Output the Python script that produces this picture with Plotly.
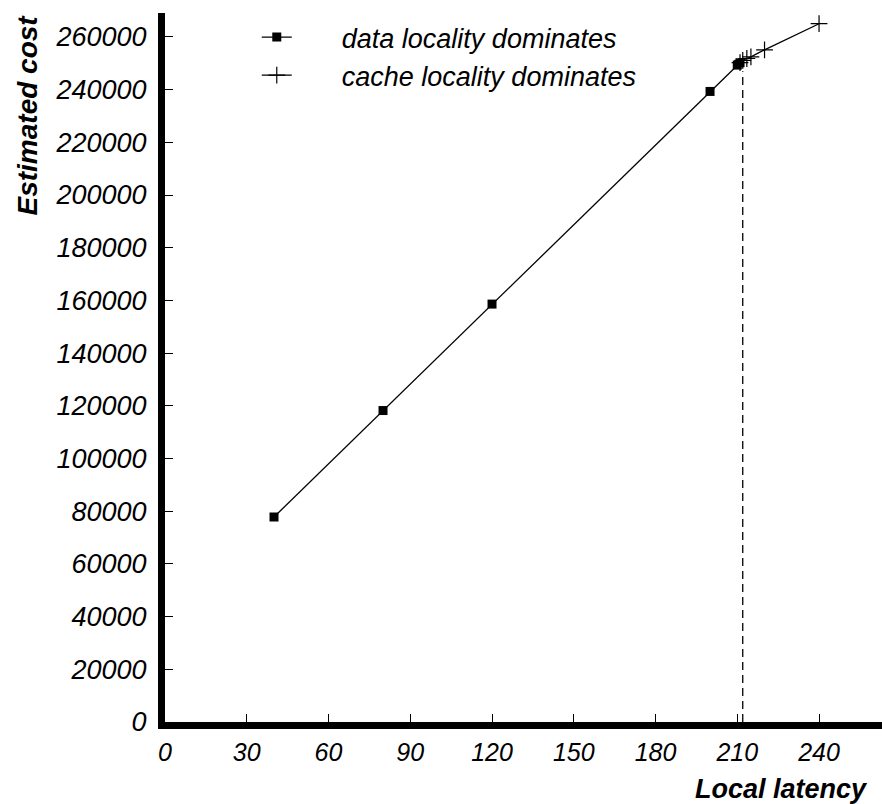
import plotly.graph_objects as go

# Data
data_x = [40, 80, 120, 200, 210, 211]
data_y = [77800, 118200, 158600, 239300, 249300, 250200]
cache_x = [211, 212, 213.5, 215, 220, 240]
cache_y = [250200, 251100, 251800, 252400, 255100, 265000]
threshold_x = [212, 212]
threshold_y = [0, 247000]

x_ticks = [0, 30, 60, 90, 120, 150, 180, 210, 240]
y_ticks = list(range(0, 260001, 20000))

FONT = "Liberation Sans, Arial, Helvetica, sans-serif"
PAD = "&nbsp;" * 6

fig = go.Figure()
fig.add_trace(go.Scatter(
    x=data_x, y=data_y, mode="lines+markers", name=PAD + "data locality dominates",
    line=dict(color="black", width=1.3),
    marker=dict(symbol="square", size=9, color="black"),
))
fig.add_trace(go.Scatter(
    x=cache_x, y=cache_y, mode="lines+markers", name=PAD + "cache locality dominates",
    line=dict(color="black", width=1.3),
    marker=dict(symbol="cross-thin", size=12, color="black",
                line=dict(color="black", width=1.2)),
))
fig.add_trace(go.Scatter(
    x=threshold_x, y=threshold_y, mode="lines", showlegend=False,
    line=dict(color="black", width=1.3, dash="8px,5px"),
    hoverinfo="skip",
))

fig.update_layout(
    width=882, height=804,
    margin=dict(l=165, r=0, t=13, b=82, autoexpand=False),
    paper_bgcolor="white", plot_bgcolor="white",
    font=dict(family=FONT, color="black"),
    showlegend=True,
    legend=dict(
        x=0.128, y=1.0, xanchor="left", yanchor="top",
        bgcolor="rgba(0,0,0,0)",
        font=dict(family=FONT, size=27, style="italic", color="black"),
        tracegroupgap=0,
    ),
    xaxis=dict(
        range=[0, 263.1], tickvals=x_ticks, ticktext=[str(v) for v in x_ticks],
        showgrid=False, zeroline=False, automargin=False,
        showline=True, linewidth=7, linecolor="black",
        ticks="inside", ticklen=8, tickwidth=1, tickcolor="black",
        tickfont=dict(family=FONT, size=25, style="italic", color="black"),
        ticklabelstandoff=2,
    ),
    yaxis=dict(
        range=[0, 269070], tickvals=y_ticks, ticktext=[str(v) for v in y_ticks],
        showgrid=False, zeroline=False, automargin=False,
        showline=True, linewidth=7, linecolor="black",
        ticks="inside", ticklen=8, tickwidth=1, tickcolor="black",
        tickfont=dict(family=FONT, size=27, style="italic", color="black"),
        ticklabelstandoff=6,
    ),
    annotations=[
        dict(text="Local latency", xref="paper", yref="paper", x=0.983, y=0,
             yshift=-67, xanchor="right", yanchor="middle", showarrow=False,
             font=dict(family=FONT, size=27, style="italic", weight="bold", color="black")),
        dict(text="Estimated cost", xref="paper", yref="paper", x=0, y=1.0,
             xshift=-138, xanchor="center", yanchor="top", textangle=-90, showarrow=False,
             font=dict(family=FONT, size=28, style="italic", weight="bold", color="black")),
    ],
)

fig.write_html("out.html", config={"displayModeBar": False},
               post_script="document.body.style.margin='0';")
